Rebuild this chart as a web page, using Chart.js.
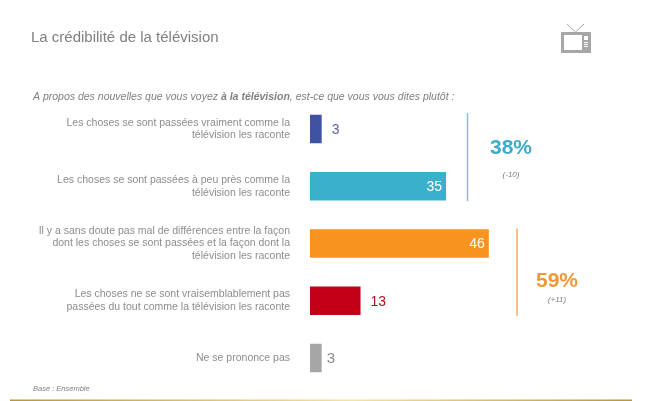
<!DOCTYPE html>
<html lang="fr">
<head>
<meta charset="utf-8">
<title>La crédibilité de la télévision</title>
<script src="https://cdn.jsdelivr.net/npm/chart.js@4"></script>
<style>
html, body { margin: 0; padding: 0; background: #fff; }
canvas { display: block; }
</style>
</head>
<body>
<canvas id="tvChart" width="647" height="401"></canvas>
<script>
// Data
const categories = [
    ['Les choses se sont passées vraiment comme la', 'télévision les raconte'],
    ['Les choses se sont passées à peu près comme la', 'télévision les raconte'],
    ['Il y a sans doute pas mal de différences entre la façon', 'dont les choses se sont passées et la façon dont la', 'télévision les raconte'],
    ['Les choses ne se sont vraisemblablement pas', 'passées du tout comme la télévision les raconte'],
    'Ne se prononce pas'
];
const values = [3, 35, 46, 13, 3];
const barColors = ['#3F51A3', '#3AB0CC', '#F7931E', '#C30017', '#A6A6A6'];
const labelColors = ['#5A62A8', '#ffffff', '#ffffff', '#B01020', '#8C8C8C'];
const insideBar = [false, true, true, false, false];
const groupTotals = ['38%', '59%'];
const groupChanges = ['(-10)', '(+11)'];

const FONT = '"Liberation Sans", Arial, sans-serif';

function drawText(c, text, x, y, font, color, align) {
    c.font = font;
    c.fillStyle = color;
    c.textAlign = align || 'left';
    c.textBaseline = 'middle';
    c.fillText(text, x, y);
}

// Everything around the bars: titles, value labels, brackets, icon
const decorations = {
    id: 'decorations',
    afterDraw(chart) {
        const c = chart.ctx;
        const x = chart.scales.x;
        const bars = chart.getDatasetMeta(0).data;
        c.save();

        drawText(c, 'La crédibilité de la télévision', 31, 38, '15px ' + FONT, '#7F7F7F');

        // question line with the bold part in the middle
        let sx = 33;
        const parts = [
            ['A propos des nouvelles que vous voyez ', 'italic 10.5px '],
            ['à la télévision', 'italic bold 10.5px '],
            [', est-ce que vous vous dites plutôt :', 'italic 10.5px ']
        ];
        parts.forEach(p => {
            drawText(c, p[0], sx, 97, p[1] + FONT, '#7F7F7F');
            sx += c.measureText(p[0]).width;
        });

        drawText(c, 'Base : Ensemble', 33, 389, 'italic 7.5px ' + FONT, '#7F7F7F');

        // value labels
        values.forEach((v, i) => {
            const px = x.getPixelForValue(v);
            const py = bars[i].y + 1;
            if (insideBar[i]) {
                drawText(c, String(v), px - 4, py, '14px ' + FONT, labelColors[i], 'right');
            } else if (i === values.length - 1) {
                drawText(c, String(v), px + 5, py, '15px ' + FONT, labelColors[i]);
            } else {
                drawText(c, String(v), px + 10, py, '14px ' + FONT, labelColors[i]);
            }
        });

        // brackets
        c.lineWidth = 1.5;
        c.strokeStyle = '#7CC4D8';
        c.beginPath();
        c.moveTo(467.5, bars[0].y - 16);
        c.lineTo(467.5, bars[1].y + 15);
        c.stroke();
        c.strokeStyle = '#ECAE6A';
        c.beginPath();
        c.moveTo(517, bars[2].y - 15);
        c.lineTo(517, bars[3].y + 15);
        c.stroke();

        drawText(c, groupTotals[0], 511, 148, 'bold 21px ' + FONT, '#3AACC8', 'center');
        drawText(c, groupChanges[0], 511, 175, 'italic 8px ' + FONT, '#7F7F7F', 'center');
        drawText(c, groupTotals[1], 557, 281, 'bold 21px ' + FONT, '#F0973A', 'center');
        drawText(c, groupChanges[1], 557, 300, 'italic 8px ' + FONT, '#7F7F7F', 'center');

        // TV icon
        c.strokeStyle = '#A6A6A6';
        c.lineWidth = 1;
        c.beginPath();
        c.moveTo(567, 24);
        c.lineTo(575.5, 32);
        c.lineTo(584, 24);
        c.stroke();
        c.fillStyle = '#A6A6A6';
        c.fillRect(561, 32, 30, 21);
        c.fillStyle = '#fff';
        c.fillRect(564, 35, 18, 15);
        c.fillRect(584, 36, 4, 4);
        c.fillRect(584, 42, 4, 1);
        c.fillRect(584, 44, 4, 1);
        c.fillRect(584, 46, 4, 1);

        // gold rule at the bottom
        const gold = c.createLinearGradient(10, 0, 632, 0);
        gold.addColorStop(0, '#B8963E');
        gold.addColorStop(0.55, '#F3E3A6');
        gold.addColorStop(1, '#B8963E');
        c.fillStyle = gold;
        c.fillRect(10, 399.5, 622, 1.5);

        c.restore();
    }
};

const ctx = document.getElementById('tvChart').getContext('2d');
const tvChart = new Chart(ctx, {
    type: 'bar',
    data: {
        labels: categories,
        datasets: [{
            data: values,
            backgroundColor: barColors,
            barPercentage: 0.5,
            categoryPercentage: 1
        }]
    },
    options: {
        indexAxis: 'y',
        responsive: false,
        animation: false,
        layout: { padding: { top: 100.4, bottom: 14.4, right: 26, left: 0 } },
        plugins: {
            legend: { display: false },
            tooltip: { enabled: false }
        },
        scales: {
            x: {
                min: 0,
                max: 80,
                display: false
            },
            y: {
                afterFit(scale) {
                    scale.width = 310;
                    scale.paddingTop = 0;
                    scale.paddingBottom = 0;
                },
                grid: { display: false, drawTicks: false },
                border: { display: false },
                ticks: {
                    autoSkip: false,
                    padding: 20,
                    color: '#8C8C8C',
                    font: { family: FONT, size: 10.5, lineHeight: 1.21 }
                }
            }
        }
    },
    plugins: [decorations]
});
</script>
</body>
</html>
